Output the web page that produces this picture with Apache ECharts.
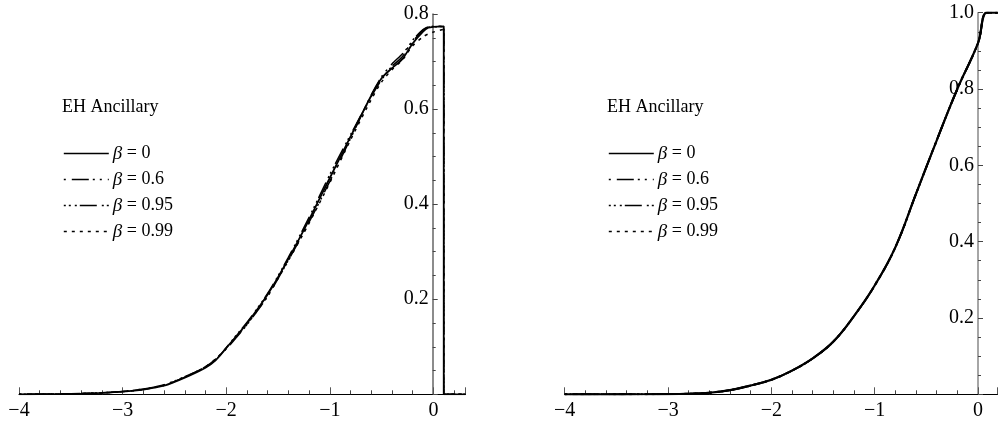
<!DOCTYPE html>
<html>
<head>
<meta charset="utf-8">
<script src="https://cdn.jsdelivr.net/npm/echarts@6/dist/echarts.min.js"></script>
<style>
html,body{margin:0;padding:0;background:#fff;}
#c{width:998px;height:429px;}
</style>
</head>
<body>
<div id="c"></div>
<script>
// ---------- data ----------
const seriesNames = ['β = 0', 'β = 0.6', 'β = 0.95', 'β = 0.99'];
const panelTitle = 'EH Ancillary';

// left panel
const leftX     = [-4, -3.8, -3.6, -3.4, -3.2, -3.0, -2.8, -2.6, -2.4, -2.2, -2.1, -2.0, -1.9, -1.8, -1.6, -1.4, -1.2, -1.0, -0.8, -0.6, -0.5, -0.4, -0.3, -0.2, -0.1, -0.05, 0, 0.1, 0.1, 0.2, 0.31];
const leftB0    = [0, 0.0002, 0.0006, 0.0015, 0.003, 0.0055, 0.010, 0.018, 0.035, 0.056, 0.072, 0.097, 0.123, 0.149, 0.210, 0.285, 0.367, 0.455, 0.542, 0.628, 0.665, 0.686, 0.705, 0.738, 0.763, 0.771, 0.773, 0.774, 0, 0, 0];
const leftB06   = [0, 0.0002, 0.0006, 0.0016, 0.003, 0.0058, 0.011, 0.019, 0.036, 0.058, 0.074, 0.095, 0.120, 0.146, 0.206, 0.282, 0.362, 0.448, 0.538, 0.630, 0.668, 0.695, 0.716, 0.742, 0.766, 0.773, 0.774, 0.774, 0, 0, 0];
const leftB095  = [0, 0.0002, 0.0007, 0.0016, 0.0032, 0.006, 0.011, 0.020, 0.037, 0.057, 0.073, 0.098, 0.125, 0.151, 0.212, 0.288, 0.372, 0.462, 0.546, 0.626, 0.662, 0.690, 0.710, 0.745, 0.767, 0.772, 0.773, 0.774, 0, 0, 0];
const leftB099  = [0, 0.0002, 0.0006, 0.0015, 0.003, 0.0056, 0.010, 0.019, 0.036, 0.058, 0.075, 0.096, 0.122, 0.147, 0.207, 0.281, 0.360, 0.445, 0.535, 0.620, 0.657, 0.683, 0.703, 0.733, 0.752, 0.758, 0.762, 0.768, 0, 0, 0];

// right panel
const rightX    = [-4, -3.5, -3.0, -2.8, -2.6, -2.4, -2.2, -2.0, -1.8, -1.6, -1.4, -1.2, -1.0, -0.8, -0.6, -0.4, -0.2, 0, 0.085, 0.19];
const rightB0   = [0, 0, 0.0005, 0.0015, 0.004, 0.011, 0.023, 0.038, 0.062, 0.094, 0.138, 0.205, 0.285, 0.385, 0.525, 0.665, 0.800, 0.920, 1.0, 1.0];
const rightB06  = [0, 0, 0.0005, 0.0015, 0.004, 0.011, 0.023, 0.038, 0.062, 0.094, 0.138, 0.205, 0.285, 0.385, 0.525, 0.665, 0.800, 0.920, 1.0, 1.0];
const rightB095 = [0, 0, 0.0005, 0.0015, 0.004, 0.011, 0.023, 0.038, 0.062, 0.094, 0.138, 0.205, 0.285, 0.385, 0.525, 0.665, 0.800, 0.920, 1.0, 1.0];
const rightB099 = [0, 0, 0.0005, 0.0015, 0.004, 0.011, 0.023, 0.038, 0.062, 0.094, 0.138, 0.205, 0.285, 0.385, 0.525, 0.665, 0.800, 0.920, 1.0, 1.0];

// ---------- styles ----------
const FONT = 'Liberation Serif';
const dashes = ['solid', [2, 6, 17, 4, 2, 5], [2, 3, 2, 4, 2, 3, 17, 5], [3, 5]];
const widths = [1.8, 1.5, 1.5, 1.5];

function pairs(xs, ys) { return xs.map((x, i) => [x, ys[i]]); }

function xAxisCfg(gi, max) {
  return {
    type: 'value', gridIndex: gi, min: -4, max: max, interval: 1,
    axisLine: { onZero: false, lineStyle: { color: '#000', width: 1.2 } },
    axisTick: { inside: true, length: 7, lineStyle: { color: '#555', width: 1 } },
    minorTick: { show: true, splitNumber: 5, length: 4, lineStyle: { color: '#444', width: 1 } },
    splitLine: { show: false },
    axisLabel: {
      margin: 6, color: '#000', fontFamily: FONT, fontSize: 20,
      formatter: v => Number.isInteger(v) ? (v < 0 ? '\u2212' + (-v) : String(v)) : ''
    }
  };
}
function yAxisCfg(gi, max, color, offset) {
  return {
    type: 'value', gridIndex: gi, min: 0, max: max, interval: 0.2, position: 'left', offset: offset,
    axisLine: { onZero: false, lineStyle: { color: color, width: 1.5 } },
    axisTick: { inside: true, length: 5, lineStyle: { color: '#444', width: 1 } },
    minorTick: { show: true, splitNumber: 4, length: 3, lineStyle: { color: '#444', width: 1 } },
    splitLine: { show: false },
    axisLabel: {
      margin: 4, color: '#000', fontFamily: FONT, fontSize: 20, showMinLabel: false,
      formatter: v => v === 0 ? '' : v.toFixed(1)
    }
  };
}

const leftData = [leftB0, leftB06, leftB095, leftB099];
const rightData = [rightB0, rightB06, rightB095, rightB099];

const series = [];
seriesNames.forEach((n, k) => {
  series.push({
    name: n, type: 'line', xAxisIndex: 0, yAxisIndex: 0, showSymbol: false, symbol: 'none',
    data: pairs(leftX, leftData[k]), smooth: 0.25, animation: false, z: 5 - k,
    lineStyle: { color: '#000', width: widths[k], type: dashes[k] }, itemStyle: { color: '#000' }
  });
});
seriesNames.forEach((n, k) => {
  series.push({
    name: n, type: 'line', xAxisIndex: 1, yAxisIndex: 1, showSymbol: false, symbol: 'none',
    data: pairs(rightX, rightData[k]), smooth: 0.4, animation: false, z: 5 - k,
    lineStyle: { color: '#000', width: widths[k] + 0.4, type: dashes[k] }, itemStyle: { color: '#000' }
  });
});

function legendCfg(left) {
  return {
    data: seriesNames, orient: 'vertical', left: left, top: 144, padding: 0,
    itemWidth: 45, itemHeight: 18, itemGap: 7, selectedMode: false,
    itemStyle: { color: 'rgba(0,0,0,0)', borderColor: 'rgba(0,0,0,0)', borderWidth: 0, opacity: 0 },
    lineStyle: { color: '#000', width: 1.6 },
    formatter: name => '{i|β}' + name.slice(1),
    textStyle: {
      color: '#000', fontFamily: FONT, fontSize: 18, padding: [0, 0, 0, -1],
      rich: { i: { fontStyle: 'italic', fontFamily: FONT, fontSize: 19, color: '#000' } }
    }
  };
}

const option = {
  backgroundColor: '#fff',
  animation: false,
  title: [
    { text: panelTitle, left: 62, top: 98, padding: 0, textStyle: { fontFamily: FONT, fontSize: 18, fontWeight: 'normal', color: '#000' } },
    { text: panelTitle, left: 607, top: 98, padding: 0, textStyle: { fontFamily: FONT, fontSize: 18, fontWeight: 'normal', color: '#000' } }
  ],
  legend: [legendCfg(63), legendCfg(608)],
  grid: [
    { left: 19, top: 14, width: 446.5, height: 380.3, containLabel: false, outerBoundsMode: 'none' },
    { left: 564.7, top: 12.7, width: 432.9, height: 381.6, containLabel: false, outerBoundsMode: 'none' }
  ],
  xAxis: [xAxisCfg(0, 0.31), xAxisCfg(1, 0.19)],
  yAxis: [yAxisCfg(0, 0.8, '#666', -413.7), yAxisCfg(1, 1.0, '#888', -413.3)],
  series: series
};

const chart = echarts.init(document.getElementById('c'), null, { renderer: 'canvas' });
chart.setOption(option);
</script>
</body>
</html>
